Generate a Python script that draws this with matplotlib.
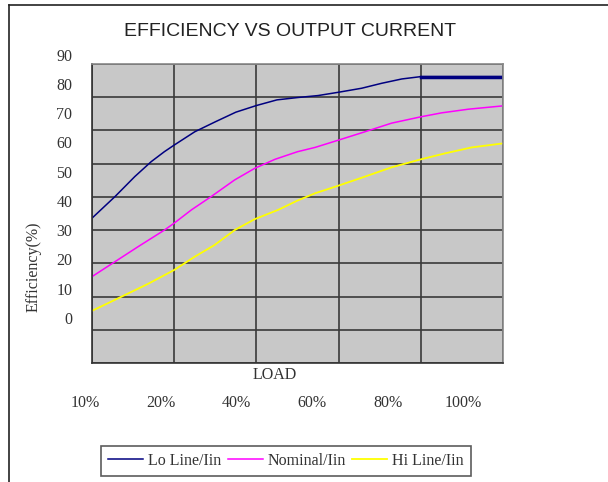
import numpy as np
import matplotlib
matplotlib.use("Agg")
import matplotlib.pyplot as plt
from matplotlib.lines import Line2D

# load ticks (gridlines) and curve data
load_ticks = [10, 20, 40, 60, 80, 100]
load_labels = ["10%", "20%", "40%", "60%", "80%", "100%"]
eff_ticks = [0, 10, 20, 30, 40, 50, 60, 70, 80, 90]

lo_load = [10, 12.8, 15.2, 17.2, 18.8, 20, 25, 30, 35, 40, 45, 50, 55, 60, 65.6, 70.5, 75.4, 80, 100]
lo_eff = [43.6, 50.1, 56.1, 60.6, 63.6, 65.6, 69.6, 72.6, 75.5, 77.5, 79.2, 79.9, 80.5, 81.5, 82.7, 84.2, 85.5, 86.2, 86.2]

nom_load = [10, 12.8, 15.6, 18.8, 20, 24.2, 29, 34.7, 39.6, 44.5, 50, 54.3, 60, 66.4, 72.9, 80, 85.1, 91.6, 100]
nom_eff = [26.0, 30.5, 35.0, 40.0, 42.1, 46.1, 50.1, 55.1, 58.6, 61.3, 63.6, 64.9, 67.1, 69.6, 72.2, 74.1, 75.3, 76.4, 77.4]

hi_load = [10, 13.2, 16.8, 20, 25, 29.8, 34.7, 39.6, 45.3, 50, 54.3, 60, 66.4, 72.9, 80, 85.9, 92.4, 100]
hi_eff = [15.7, 19.5, 23.8, 28.0, 32.0, 35.5, 40.0, 43.3, 46.1, 48.9, 51.1, 53.4, 56.1, 58.9, 61.3, 63.1, 64.9, 66.1]

serif = "Liberation Serif"

fig = plt.figure(figsize=(6.08, 4.82), dpi=100)
ax = fig.add_axes([92 / 608, 1 - 363 / 482, 411 / 608, 299 / 482])
ax.set_facecolor("#c8c8c8")

# gridlines sit at evenly spaced load steps
idx = np.arange(len(load_ticks))
ax.set_xscale("function", functions=(lambda x: np.interp(x, load_ticks, idx),
                                     lambda p: np.interp(p, idx, load_ticks)))
ax.set_xlim(load_ticks[0], load_ticks[-1])
ax.set_ylim(eff_ticks[0], eff_ticks[-1])
ax.set_xticks(load_ticks)
ax.set_yticks(eff_ticks)
ax.grid(True, color="#3a3a3a", lw=1.2)
ax.tick_params(length=0, labelbottom=False, labelleft=False)
for s in ["left", "bottom"]:
    ax.spines[s].set_color("#333333")
    ax.spines[s].set_linewidth(1.2)
for s in ["top", "right"]:
    ax.spines[s].set_color("#888888")
    ax.spines[s].set_linewidth(1.2)

ax.plot(lo_load, lo_eff, color="#000080", lw=1.1, label="Lo Line/Iin")
ax.plot(lo_load[-2:], lo_eff[-2:], color="#000080", lw=2.5)
ax.plot(nom_load, nom_eff, color="#ff00ff", lw=1.1, label="Nominal/Iin")
ax.plot(hi_load, hi_eff, color="#ffff00", lw=1.3, label="Hi Line/Iin")

# the printed labels are offset from the grid in the original scan
for i, lab in enumerate(load_labels):
    ax.text(-0.017 + i * 0.1843, -0.135, lab, transform=ax.transAxes,
            ha="center", va="center", family=serif, fontsize=11.5, color="#333333")
for v in eff_ticks:
    ax.text(-0.048, 0.1438 + v / 90 * 0.8806, str(v), transform=ax.transAxes,
            ha="right", va="center", family=serif, fontsize=11.5, color="#333333")

ax.text(0.445, -0.04, "LOAD", transform=ax.transAxes, ha="center", va="center",
        family=serif, fontsize=11.5, color="#333333")
fig.text(34 / 608, 1 - 267 / 482, "Efficiency(%)", rotation=90, ha="center", va="center",
         family=serif, fontsize=11.5, color="#333333")
fig.text(290 / 608, 1 - 31 / 482, "EFFICIENCY VS OUTPUT CURRENT", ha="center", va="center",
         family="Liberation Sans", fontsize=14, color="#222222")

leg = fig.legend(loc="center", bbox_to_anchor=(286 / 608, 1 - 461 / 482), ncol=3,
                 frameon=True, fancybox=False, prop={"family": serif, "size": 11.5},
                 handlelength=2.2, handletextpad=0.3, columnspacing=0.4,
                 borderpad=0.45, borderaxespad=0, edgecolor="#333333")
leg.get_frame().set_linewidth(1.2)
for t in leg.get_texts():
    t.set_color("#333333")

# outer page frame from the scan
fig.add_artist(Line2D([9 / 608, 9 / 608], [0, 1 - 5 / 482], color="#222222", lw=1.2))
fig.add_artist(Line2D([9 / 608, 1], [1 - 5 / 482, 1 - 5 / 482], color="#222222", lw=1.2))

fig.savefig("out.png", dpi=100)
